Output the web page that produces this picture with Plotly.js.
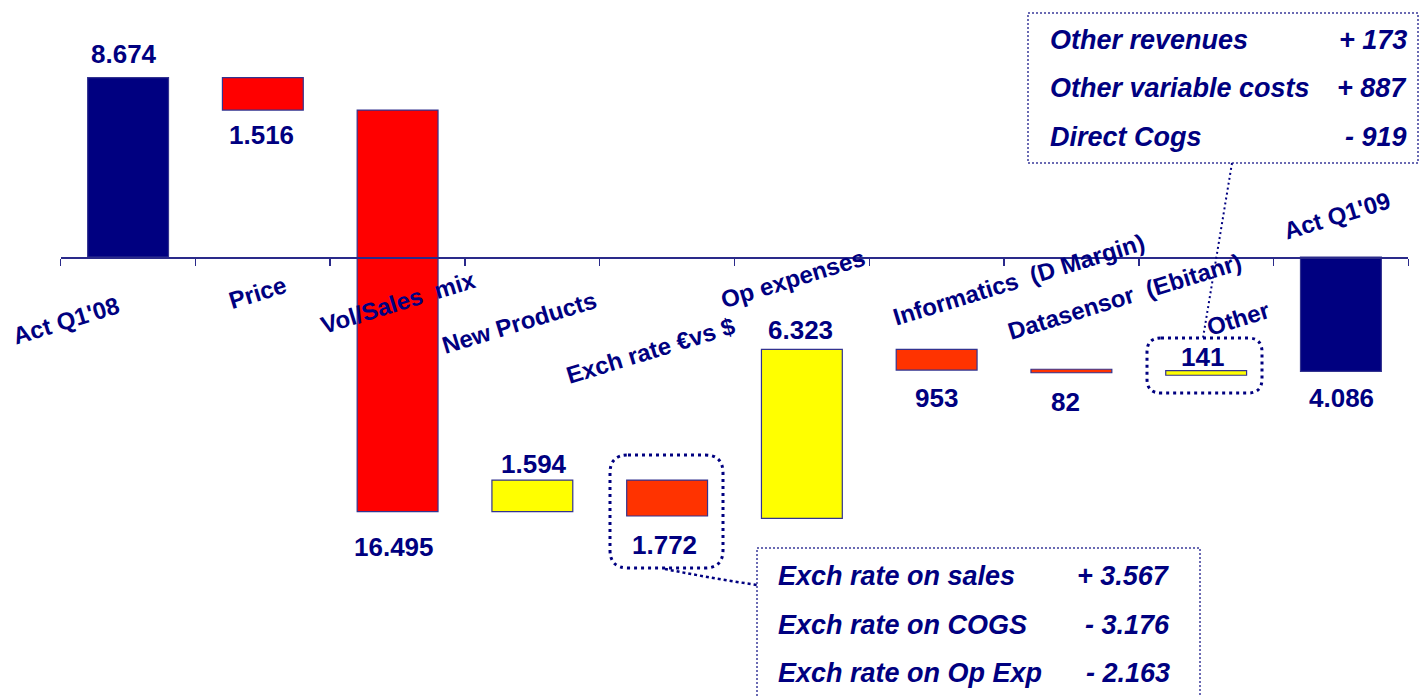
<!DOCTYPE html>
<html><head><meta charset="utf-8">
<script src="https://cdn.plot.ly/plotly-3.0.1.min.js"></script>
<style>html,body{margin:0;padding:0;background:#fff;}#chart{width:1421px;height:696px;}</style>
</head><body><div id="chart"></div>
<script>
// ---- data ----
const categories = ["Act Q1'08", "Price", "Vol/Sales  mix", "New Products", "Exch rate €vs $",
  "Op expenses", "Informatics  (D Margin)", "Datasensor  (Ebitanr)", "Other", "Act Q1'09"];
const barStart = [0, 8.674, 7.11, -12.32, -10.79, -12.64, -4.47, -5.43, -5.72, 0];
const barEnd   = [8.674, 7.11, -12.32, -10.79, -12.53, -4.47, -5.47, -5.60, -5.50, -5.53];
const valueLabels = ["8.674", "1.516", "16.495", "1.594", "1.772", "6.323", "953", "82", "141", "4.086"];
const barKinds = ["total", "down", "down", "up", "fx", "up", "fx", "fx", "up", "total"];
const exchDetailNames = ["Exch rate on sales", "Exch rate on COGS", "Exch rate on Op Exp"];
const exchDetailValues = ["+ 3.567", "- 3.176", "- 2.163"];
const otherDetailNames = ["Other revenues", "Other variable costs", "Direct Cogs"];
const otherDetailValues = ["+ 173", "+ 887", "- 919"];

// ---- styling ----
const W = 1421, H = 696;
const NAVY = "#000080";
const FONT = "Liberation Sans, Arial, Helvetica, sans-serif";
const kindColor = {total: "#000080", down: "#FF0000", up: "#FFFF00", fx: "#FF3300"};
const px = x => x / W;
const py = y => 1 - y / H;

// vertical scale chosen so the axis sits where the original has it
const axisPix = 257, k = 8.674 / (257 - 77.7);
const yMax = axisPix * k, yMin = -(H - axisPix) * k;

const bars = {
  type: "bar",
  x: categories,
  base: barStart,
  y: barEnd.map((e, i) => e - barStart[i]),
  width: 0.6,
  marker: {
    color: barKinds.map(kd => kindColor[kd]),
    line: {color: "#33338f", width: 1.2}
  },
  hoverinfo: "skip",
  showlegend: false
};

const annotations = [];
// category labels (rotated), positioned relative to each category on the axis
const catShift = [[-62, 63], [-5, 35], [0, 45], [-13, 65], [-17, 93], [-9, 21], [82, 22], [53, 39], [32, 61], [-4, -42]];
categories.forEach((c, i) => {
  annotations.push({
    x: c, y: 0, xref: "x", yref: "y", text: "<b>" + c + "</b>", showarrow: false,
    textangle: -17, xanchor: "center", yanchor: "middle",
    xshift: catShift[i][0], yshift: -catShift[i][1],
    font: {family: FONT, size: 24, color: NAVY}
  });
});
// value labels: above the bar for rises, below for falls
const valShift = [[-4, 24], [-1, -25], [-4, -35], [2, 16.5], [-3, -29], [-1, 19], [0, -28], [-6, -29], [-4, 14], [1, -27]];
categories.forEach((c, i) => {
  const up = barEnd[i] >= barStart[i];
  annotations.push({
    x: c, y: up ? Math.max(barStart[i], barEnd[i]) : Math.min(barStart[i], barEnd[i]),
    xref: "x", yref: "y", text: "<b>" + valueLabels[i] + "</b>", showarrow: false,
    xanchor: "center", yanchor: "middle",
    xshift: valShift[i][0], yshift: valShift[i][1],
    font: {family: FONT, size: 26, color: NAVY}
  });
});
// callout texts
const otherRows = [40, 88, 137];
otherDetailNames.forEach((t, i) => {
  annotations.push({x: px(1048), y: py(otherRows[i]), xref: "paper", yref: "paper", showarrow: false,
    text: "<b><i>" + t + "</i></b>", xanchor: "left", yanchor: "middle",
    font: {family: FONT, size: 27, color: NAVY}});
  annotations.push({x: px(1409), y: py(otherRows[i]), xref: "paper", yref: "paper", showarrow: false,
    text: "<b><i>" + otherDetailValues[i] + "</i></b>", xanchor: "right", yanchor: "middle",
    font: {family: FONT, size: 27, color: NAVY}});
});
const exchRows = [576, 625, 673];
exchDetailNames.forEach((t, i) => {
  annotations.push({x: px(776), y: py(exchRows[i]), xref: "paper", yref: "paper", showarrow: false,
    text: "<b><i>" + t + "</i></b>", xanchor: "left", yanchor: "middle",
    font: {family: FONT, size: 27, color: NAVY}});
  annotations.push({x: px(1172), y: py(exchRows[i]), xref: "paper", yref: "paper", showarrow: false,
    text: "<b><i>" + exchDetailValues[i] + "</i></b>", xanchor: "right", yanchor: "middle",
    font: {family: FONT, size: 27, color: NAVY}});
});

function roundRect(x0, y0, x1, y1, r) {
  const X0 = px(x0), X1 = px(x1), Y0 = py(y0), Y1 = py(y1);
  const rx = r / W, ry = r / H;
  return `M ${X0 + rx} ${Y0} L ${X1 - rx} ${Y0} Q ${X1} ${Y0} ${X1} ${Y0 - ry} L ${X1} ${Y1 + ry} Q ${X1} ${Y1} ${X1 - rx} ${Y1} L ${X0 + rx} ${Y1} Q ${X0} ${Y1} ${X0} ${Y1 + ry} L ${X0} ${Y0 - ry} Q ${X0} ${Y0} ${X0 + rx} ${Y0} Z`;
}
const bigDot = {color: NAVY, width: 3, dash: "3px,4px"};
const fineDot = {color: "#3a3a9a", width: 1.5, dash: "2px,2px"};
const shapes = [
  {type: "path", xref: "paper", yref: "paper", path: roundRect(610, 455, 723, 568, 18), line: bigDot},
  {type: "path", xref: "paper", yref: "paper", path: roundRect(1147, 338, 1262, 393, 14), line: bigDot},
  {type: "rect", xref: "paper", yref: "paper", x0: px(1028), x1: px(1418), y0: py(13), y1: py(163), line: fineDot},
  {type: "rect", xref: "paper", yref: "paper", x0: px(757), x1: px(1200), y0: py(548), y1: py(705), line: fineDot},
  {type: "line", xref: "paper", yref: "paper", x0: px(1232), y0: py(163), x1: px(1203), y1: py(338),
    line: {color: NAVY, width: 2, dash: "2px,3px"}},
  {type: "path", xref: "paper", yref: "paper",
    path: `M ${px(665)} ${py(569)} Q ${px(710)} ${py(578)} ${px(757)} ${py(585)}`,
    line: {color: NAVY, width: 2.5, dash: "3px,3px"}}
];

const layout = {
  width: W, height: H,
  margin: {l: 0, r: 0, t: 0, b: 0, pad: 0},
  paper_bgcolor: "#ffffff", plot_bgcolor: "rgba(0,0,0,0)",
  showlegend: false,
  bargap: 0.4,
  xaxis: {
    type: "category", categoryorder: "array", categoryarray: categories,
    domain: [60.7 / W, 1408.3 / W], range: [-0.5, 9.5],
    anchor: "free", position: 1 - axisPix / H,
    showline: true, linecolor: "#2a2a8a", linewidth: 1.5,
    ticks: "outside", tickson: "boundaries", ticklen: 7, tickcolor: "#2a2a8a", tickwidth: 1.5,
    showticklabels: false, showgrid: false, zeroline: false, fixedrange: true
  },
  yaxis: {range: [yMin, yMax], visible: false, showgrid: false, zeroline: false, fixedrange: true},
  annotations: annotations,
  shapes: shapes
};

Plotly.newPlot("chart", [bars], layout, {displayModeBar: false, staticPlot: true});
</script>
</body></html>
